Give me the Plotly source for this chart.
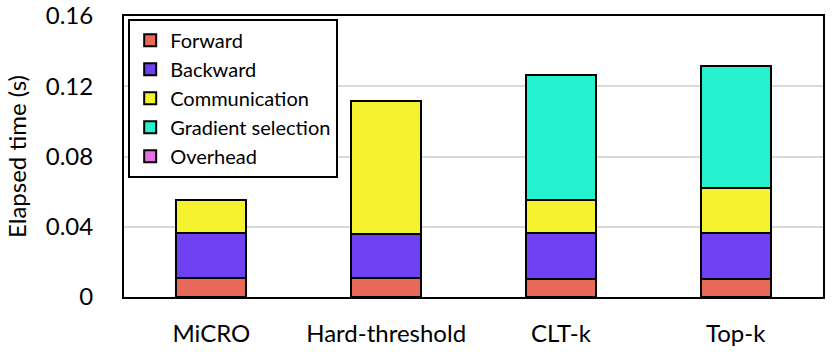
import plotly.graph_objects as go

categories = ["MiCRO", "Hard-threshold", "CLT-k", "Top-k"]
series_names = ["Forward", "Backward", "Communication", "Gradient selection", "Overhead"]
forward = [0.0107, 0.0107, 0.0104, 0.0104]
backward = [0.0257, 0.0250, 0.0258, 0.0260]
communication = [0.0187, 0.0759, 0.0189, 0.0254]
gradient_selection = [0.0, 0.0, 0.0713, 0.0698]
overhead = [0.0, 0.0, 0.0, 0.0]
y_ticks = [0, 0.04, 0.08, 0.12, 0.16]
y_tick_labels = ["0", "0.04", "0.08", "0.12", "0.16"]

colors = ["#E8685A", "#6F42F1", "#F4F22F", "#26F1CF", "#E76FE2"]
series_values = [forward, backward, communication, gradient_selection, overhead]

FONT = "Lato"
fig = go.Figure()
for name, vals, col in zip(series_names, series_values, colors):
    fig.add_trace(go.Bar(
        x=categories, y=vals, name=name,
        marker=dict(color=col, line=dict(color="black", width=2)),
    ))

fig.update_layout(
    barmode="stack",
    bargap=0.6,
    width=832, height=352,
    margin=dict(l=124, r=9, t=16, b=55),
    plot_bgcolor="white", paper_bgcolor="white",
    font=dict(family=FONT, color="black", size=22),
    legend=dict(
        x=0.006, y=0.99, xanchor="left", yanchor="top",
        bgcolor="white", bordercolor="black", borderwidth=2,
        traceorder="normal", font=dict(size=20, family=FONT),
        itemwidth=30, tracegroupgap=0,
    ),
    xaxis=dict(
        showline=True, linecolor="black", linewidth=2, mirror=True,
        tickfont=dict(size=24), ticklabelstandoff=14,
        range=[-0.5, 3.5], automargin=False,
    ),
    yaxis=dict(
        range=[0, 0.16], tickvals=y_ticks, ticktext=y_tick_labels,
        showline=True, linecolor="black", linewidth=2, mirror=True,
        showgrid=True, gridcolor="#D9D9D9", gridwidth=2,
        zeroline=False, automargin=False,
        tickfont=dict(size=24), ticklabelstandoff=24,
        title=dict(text="Elapsed time (s)", font=dict(size=24), standoff=12),
    ),
)

fig.write_html(
    "out.html",
    config={"displayModeBar": False},
    post_script="document.body.style.margin='0px';",
)
